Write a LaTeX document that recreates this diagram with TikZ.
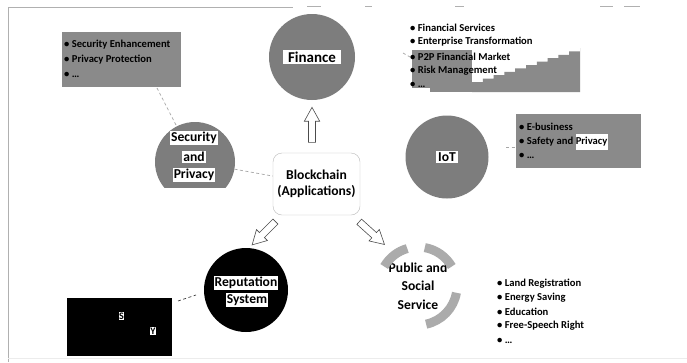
\documentclass[tikz,border=0pt]{standalone}
\usepackage{fontspec}
\setmainfont{Carlito}
\usetikzlibrary{shapes.arrows}
\definecolor{circgray}{HTML}{7D7D7D}
\definecolor{boxgray}{HTML}{8A8A8A}
\definecolor{arcgray}{HTML}{ABABAB}
\definecolor{framegray}{HTML}{B0B0B0}
\begin{document}
\begin{tikzpicture}[x=1pt,y=-1pt,
  circ/.style={circle, minimum size=#1, inner sep=0pt},
  lab/.style={fill=white, inner sep=1.2pt, font=\bfseries\fontsize{13.6}{14}\selectfont},
  item/.style={anchor=west, inner sep=0pt, font=\bfseries\fontsize{10.6}{12}\selectfont},
  conn/.style={draw=gray!70, dash pattern=on 3pt off 2.5pt, line width=0.7pt},
  blockarrow/.style={single arrow, draw=gray!60!black, fill=white, line width=0.6pt,
    inner sep=3.2pt, single arrow head extend=4.2pt, single arrow tip angle=58,
    minimum height=#1}]
\useasboundingbox (0,0) rectangle (687,362);
\fill[white] (0,0) rectangle (687,362);
% frame
\draw[framegray, line width=0.8pt] (8,362) -- (8,7) -- (293,7);
\draw[framegray, line width=0.8pt] (307,6) -- (321,6) (365,6) -- (372,6) (455,6) -- (464,6) (600,6) -- (613,6) (624,6) -- (640,6);
\draw[gray!15, line width=0.6pt] (8,358) -- (687,358);

% ---- Finance
\node[circ=86, fill=circgray] (fin) at (312,57) {};
\node[lab, inner xsep=5pt, font=\bfseries\fontsize{15}{16}\selectfont] (finlab) at (fin) {Finance};
% finance list with staircase background
\fill[boxgray] (412,50) rectangle (472,88);
\fill[boxgray] (430,80) rectangle (472,92);
\fill[boxgray] (472,82)
  \foreach \k in {1,...,10} { -- ({472+10.8*(\k-1)},{82-3.4*(\k-1)}) -- ({472+10.8*\k},{82-3.4*(\k-1)}) }
  -- (580,48) -- (580,92) -- (472,92) -- cycle;
\node[item] (f1) at (410,28) {• Financial Services};
\node[item] (f2) at (410,42) {• Enterprise Transformation};
\node[item] (f3) at (410,57) {• P2P Financial Market};
\node[item] (f4) at (410,71) {• Risk Management};
\node[item] (f5) at (410,85) {• …};
\coordinate (fintick) at (403,53);
\draw[conn] (fintick) -- (f3.west);

% ---- up arrow
\node[blockarrow=35, rotate=90] (upar) at (312,128) {};

% ---- Security and Privacy
\begin{scope}
  \clip (140,100) rectangle (250,187);
  \fill[circgray] (195,162) circle[radius=40];
\end{scope}
\node[circ=80] (sec) at (195,162) {};
\node[lab] (sec1) at (194,138) {Security};
\node[lab] (sec2) at (194,157) {and};
\node[lab] (sec3) at (194,175) {Privacy};
\node[fill=boxgray, minimum width=119pt, minimum height=55pt, inner sep=0pt] (secbox) at (121.5,59.5) {};
\node[item] (s1) at (64,45) {• Security Enhancement};
\node[item] (s2) at (64,60) {• Privacy Protection};
\node[item] (s3) at (64,75) {• …};
\coordinate (secboxc) at (157,88);
\draw[conn] (secboxc) -- (sec);

% ---- Blockchain
\node[draw=gray!55, rounded corners=9pt, minimum width=87pt, minimum height=62pt,
  align=center, font=\bfseries\fontsize{13.6}{16}\selectfont] (bc) at (316.5,184) {Blockchain\\(Applications)};
\draw[conn] (sec) -- (bc);

% ---- IoT
\node[circ=83, fill=circgray] (iot) at (447,157) {};
\node[lab, inner xsep=2.5pt] (iotlab) at (iot) {IoT};
\node[fill=boxgray, minimum width=125pt, minimum height=54pt, inner sep=0pt] (iotbox) at (578.5,141) {};
\node[item] (i1) at (519,127) {• E-business};
\node[item] (i2) at (519,142) {• Safety and \colorbox{white}{\kern-2.8pt\vphantom{Py}Privacy\kern-2.8pt}};
\node[item] (i3) at (519,156) {• …};
\coordinate (iottick) at (506,147);
\draw[conn] (iottick) -- (iotbox.west |- iottick);

% ---- arrows down
\node[blockarrow=33, rotate=225] (dlar) at (266,231) {};
\node[blockarrow=34, rotate=318] (drar) at (369.5,231) {};

% ---- Reputation System
\node[circ=84, fill=black] (rep) at (246,290) {};
\node[lab, inner xsep=0.5pt] (rep1) at (246,283) {Reputation};
\node[lab] (rep2) at (247,300) {System};
\node[fill=black, minimum width=105pt, minimum height=58pt, inner sep=0pt] (repbox) at (119.5,327) {};
\node[fill=white, inner sep=0.6pt, font=\bfseries\fontsize{10}{11}\selectfont] (ls) at (121.5,316) {S};
\node[fill=white, inner sep=0.6pt, font=\bfseries\fontsize{10}{11}\selectfont] (ly) at (153,331) {Y};
\coordinate (repc) at (196,295);
\coordinate (repboxc) at (178,301);
\draw[conn, draw=gray!50!black] (repboxc) -- (repc);

% ---- Public and Social Service
\node[circ=90, align=center, font=\bfseries\fontsize{13.6}{18.5}\selectfont] (pub) at (418,286) {Public and\\Social\\Service};
\draw[arcgray, line width=9pt] (pub.center) ++(-30:39) arc[start angle=-30, end angle=-80, radius=39];
\draw[arcgray, line width=9pt] (pub.center) ++(-106:39) arc[start angle=-106, end angle=-150, radius=39];
\draw[arcgray, line width=9pt] (pub.center) ++(78:39) arc[start angle=78, end angle=10, radius=39];
\node[item] (p1) at (497,284) {• Land Registration};
\node[item] (p2) at (497,298) {• Energy Saving};
\node[item] (p3) at (497,312) {• Education};
\node[item] (p4) at (497,326) {• Free-Speech Right};
\node[item] (p5) at (497,341) {• …};
\end{tikzpicture}
\end{document}
